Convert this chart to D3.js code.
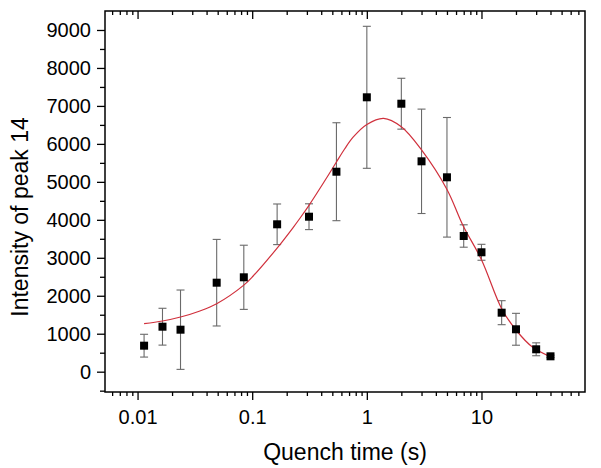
<!DOCTYPE html>
<html>
<head>
<meta charset="utf-8">
<script src="https://cdn.jsdelivr.net/npm/d3@7"></script>
<style>
    body { margin: 0; background: #fff; }
    text { font-family: 'Liberation Sans', Arial, sans-serif; fill: #000; }
</style>
</head>
<body>
<div id="chart-area"></div>
<script>
// quench times (s) and measured intensity of peak 14
const quenchTimes = [0.0114, 0.0165, 0.0237, 0.049, 0.0845, 0.165, 0.313, 0.543, 1.0, 2.0, 3.0, 5.0, 7.0, 10, 15, 20, 30, 40];
const intensities = [685, 1185, 1106, 2344, 2486, 3882, 4082, 5267, 7227, 7058, 5541, 5120, 3574, 3145, 1554, 1117, 590, 405];
const errors = [300, 485, 1045, 1140, 845, 535, 340, 1290, 1870, 670, 1375, 1575, 295, 210, 316, 420, 170, 30];

// fitted curve
const fitTimes = [0.0114, 0.0165, 0.0237, 0.035, 0.049, 0.0845, 0.102, 0.165, 0.2275, 0.26, 0.313, 0.445, 0.543, 0.642, 0.759, 1.0, 1.4, 2.0, 3.0, 5.0, 6.9, 10, 15, 20, 28, 40];
const fitValues = [1265, 1335, 1440, 1600, 1790, 2280, 2520, 3256, 3797, 4035, 4381, 5100, 5523, 5872, 6177, 6513, 6674, 6452, 5840, 4800, 3850, 2950, 1660, 1098, 643, 395];

const xTickValues = [0.01, 0.1, 1, 10];
const xTickLabels = ['0.01', '0.1', '1', '10'];
const yTickValues = [0, 1000, 2000, 3000, 4000, 5000, 6000, 7000, 8000, 9000];

window.addEventListener('DOMContentLoaded', (event) => {

    const margin = {
        top: 11,
        right: 16,
        bottom: 76,
        left: 105
    };

    const width = 601 - margin.left - margin.right;
    const height = 468 - margin.top - margin.bottom;

    const svg = d3.select('#chart-area')
        .append('svg')
        .attr('width', 601)
        .attr('height', 468);

    svg.append('rect')
        .attr('width', 601)
        .attr('height', 468)
        .attr('fill', '#fff');

    const chart = svg.append('g')
        .attr('transform', `translate(${margin.left},${margin.top})`);

    const x = d3.scaleLog()
        .domain([0.0052, 80])
        .range([0, width]);

    const y = d3.scaleLinear()
        .domain([-535, 9500])
        .range([height, 0]);

    // minor ticks 2..9 in each decade
    let xMinor = [];
    [0.001, 0.01, 0.1, 1, 10].forEach((dec) => {
        for (let k = 2; k <= 9; k++) {
            const v = dec * k;
            if (v > x.domain()[0] && v < x.domain()[1]) {
                xMinor.push(v);
            }
        }
    });
    const yMinor = d3.range(-500, 9501, 500).filter((v) => {
        return v % 1000 !== 0 && v > y.domain()[0] && v < y.domain()[1];
    });

    const styleAxis = (g) => {
        g.select('.domain').remove();
        g.selectAll('line').attr('stroke', '#000').attr('stroke-width', 1.3);
        g.selectAll('text').attr('font-size', 20).attr('font-family', "'Liberation Sans', Arial, sans-serif");
    };

    // bottom axis
    chart.append('g')
        .attr('transform', `translate(0, ${height})`)
        .call(d3.axisBottom(x).tickValues(xMinor).tickSize(4).tickFormat(''))
        .call(styleAxis);

    chart.append('g')
        .attr('transform', `translate(0, ${height})`)
        .call(d3.axisBottom(x).tickValues(xTickValues).tickSize(8).tickPadding(10)
            .tickFormat((d, i) => {
                return xTickLabels[i];
            }))
        .call(styleAxis);

    // top axis, ticks pointing in
    chart.append('g')
        .call(d3.axisTop(x).tickValues(xMinor).tickSize(-4).tickFormat(''))
        .call(styleAxis);

    chart.append('g')
        .call(d3.axisTop(x).tickValues(xTickValues).tickSize(-8).tickFormat(''))
        .call(styleAxis);

    // left axis
    chart.append('g')
        .call(d3.axisLeft(y).tickValues(yMinor).tickSize(5).tickFormat(''))
        .call(styleAxis);

    chart.append('g')
        .call(d3.axisLeft(y).tickValues(yTickValues).tickSize(8).tickPadding(6)
            .tickFormat(d3.format('d')))
        .call(styleAxis);

    // frame
    chart.append('rect')
        .attr('width', width)
        .attr('height', height)
        .attr('fill', 'none')
        .attr('stroke', '#000')
        .attr('stroke-width', 1.5);

    const points = quenchTimes.map((t, i) => {
        return { t: t, v: intensities[i], e: errors[i] };
    });

    // error bars
    const bars = chart.append('g')
        .attr('stroke', '#6a6a6a')
        .attr('stroke-width', 1.1);

    points.forEach((d) => {
        const cx = x(d.t);
        bars.append('line')
            .attr('x1', cx).attr('x2', cx)
            .attr('y1', y(d.v - d.e)).attr('y2', y(d.v + d.e));
        [d.v - d.e, d.v + d.e].forEach((val) => {
            bars.append('line')
                .attr('x1', cx - 4).attr('x2', cx + 4)
                .attr('y1', y(val)).attr('y2', y(val));
        });
    });

    // fit curve
    const fit = fitTimes.map((t, i) => {
        return [t, fitValues[i]];
    });

    chart.append('path')
        .datum(fit)
        .attr('fill', 'none')
        .attr('stroke', '#d0303c')
        .attr('stroke-width', 1.2)
        .attr('d', d3.line()
            .x((d) => {
                return x(d[0]);
            })
            .y((d) => {
                return y(d[1]);
            })
            .curve(d3.curveCatmullRom.alpha(0.5)));

    // markers
    const size = 8;
    chart.append('g')
        .selectAll('rect')
        .data(points)
        .enter()
        .append('rect')
        .attr('x', (d) => {
            return x(d.t) - size / 2;
        })
        .attr('y', (d) => {
            return y(d.v) - size / 2;
        })
        .attr('width', size)
        .attr('height', size)
        .attr('fill', '#000');

    // axis titles
    svg.append('text')
        .attr('x', margin.left + width / 2)
        .attr('y', 460)
        .attr('text-anchor', 'middle')
        .attr('font-size', 23)
        .text('Quench time (s)');

    svg.append('text')
        .attr('transform', 'translate(28, 217) rotate(-90)')
        .attr('text-anchor', 'middle')
        .attr('font-size', 23)
        .text('Intensity of peak 14');

}); // End of document ready.
</script>
</body>
</html>
